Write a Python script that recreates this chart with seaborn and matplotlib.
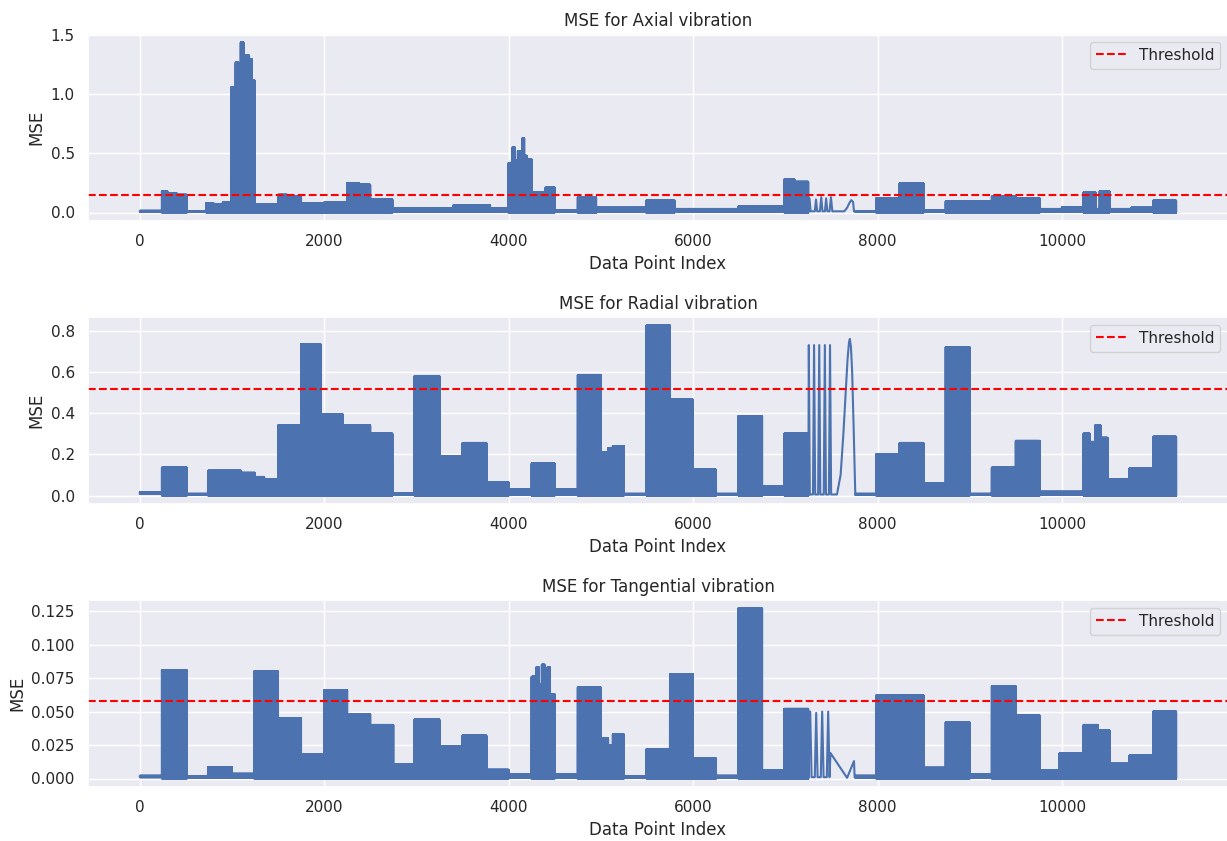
import numpy as np
import pandas as pd
import matplotlib
matplotlib.use("Agg")
import matplotlib.pyplot as plt
import seaborn as sns

# ---------------------------------------------------------------------------
# Reconstruction error per data point for the three vibration channels.
# Each channel is stored as blocks of rapidly alternating error values
# (start index, end index, upper level, lower level) plus a short list of
# explicit vertices for the slow transient around index 7250-7760.
# ---------------------------------------------------------------------------

# ---- Axial -----------------------------------------------------------------
axial_start = [0, 240, 300, 400, 510, 720, 800, 900, 990, 1040, 1070, 1095,
               1125, 1150, 1185, 1215, 1245, 1500, 1600, 1750, 2000, 2250,
               2380, 2500, 2740, 3400, 3800, 4000, 4040, 4070, 4100, 4130,
               4150, 4170, 4200, 4250, 4400, 4500, 4750, 4950, 5490, 5800,
               6490, 6990, 7100, 7760, 7985, 8240, 8500, 8740, 9240, 9500,
               9760, 10000, 10235, 10365, 10410, 10515, 10750, 10990]
axial_end = [240, 300, 400, 510, 720, 800, 900, 990, 1040, 1070, 1095, 1125,
             1150, 1185, 1215, 1245, 1500, 1600, 1750, 2000, 2250, 2380,
             2500, 2740, 3400, 3800, 4000, 4040, 4070, 4100, 4130, 4150,
             4170, 4200, 4250, 4400, 4500, 4750, 4950, 5490, 5800, 6490,
             6990, 7100, 7250, 7985, 8240, 8500, 8740, 9240, 9500, 9760,
             10000, 10235, 10365, 10410, 10515, 10750, 10990, 11240]
axial_peak = [0.014, 0.18, 0.165, 0.15, 0.012, 0.08, 0.07, 0.085, 1.06, 1.27,
              1.20, 1.44, 1.25, 1.33, 1.30, 1.12, 0.07, 0.15, 0.14, 0.075,
              0.085, 0.25, 0.235, 0.11, 0.035, 0.06, 0.032, 0.42, 0.55, 0.44,
              0.52, 0.45, 0.63, 0.48, 0.45, 0.17, 0.21, 0.015, 0.13, 0.04,
              0.10, 0.03, 0.05, 0.28, 0.26, 0.01, 0.12, 0.245, 0.02, 0.095,
              0.135, 0.12, 0.03, 0.045, 0.17, 0.03, 0.18, 0.03, 0.04, 0.10]
axial_floor = [0.008, 0.0, 0.0, 0.0, 0.006, 0.0, 0.0, 0.0, 0.0, 0.0, 0.0,
               0.0, 0.0, 0.0, 0.0, 0.0, 0.0, 0.0, 0.0, 0.0, 0.0, 0.0, 0.0,
               0.0, 0.01, 0.01, 0.01, 0.0, 0.0, 0.0, 0.0, 0.0, 0.0, 0.0,
               0.0, 0.0, 0.0, 0.008, 0.0, 0.01, 0.0, 0.01, 0.01, 0.0, 0.0,
               0.005, 0.0, 0.0, 0.005, 0.0, 0.0, 0.0, 0.01, 0.01, 0.0, 0.0,
               0.0, 0.005, 0.005, 0.0]
axial_curve_x = [7250, 7262, 7275, 7320, 7333, 7346, 7375, 7390, 7403, 7430,
                 7443, 7456, 7480, 7495, 7510, 7640, 7670, 7695, 7715, 7735,
                 7745, 7759]
axial_curve_y = [0.01, 0.12, 0.01, 0.01, 0.11, 0.01, 0.01, 0.13, 0.01, 0.01,
                 0.12, 0.01, 0.01, 0.13, 0.01, 0.01, 0.04, 0.08, 0.105, 0.09,
                 0.01, 0.01]
axial_threshold = 0.145

# ---- Radial ----------------------------------------------------------------
radial_start = [0, 240, 510, 740, 1100, 1250, 1350, 1500, 1750, 1960, 2200,
                2500, 2740, 2980, 3250, 3500, 3760, 4000, 4250, 4500, 4750,
                5000, 5080, 5130, 5250, 5495, 5750, 6000, 6250, 6490, 6750,
                6990, 7760, 7985, 8240, 8500, 8740, 9000, 9240, 9500, 9760,
                10235, 10300, 10360, 10420, 10495, 10730, 10990]
radial_end = [240, 510, 740, 1100, 1250, 1350, 1500, 1750, 1960, 2200, 2500,
              2740, 2980, 3250, 3500, 3760, 4000, 4250, 4500, 4750, 5000,
              5080, 5130, 5250, 5495, 5750, 6000, 6250, 6490, 6750, 6990,
              7250, 7985, 8240, 8500, 8740, 9000, 9240, 9500, 9760, 10235,
              10300, 10360, 10420, 10495, 10730, 10990, 11240]
radial_peak = [0.016, 0.135, 0.008, 0.12, 0.11, 0.09, 0.08, 0.34, 0.735,
               0.395, 0.34, 0.30, 0.01, 0.58, 0.19, 0.255, 0.065, 0.028,
               0.155, 0.03, 0.585, 0.21, 0.23, 0.24, 0.008, 0.825, 0.465,
               0.125, 0.008, 0.385, 0.045, 0.30, 0.008, 0.20, 0.255, 0.06,
               0.72, 0.008, 0.135, 0.265, 0.018, 0.30, 0.26, 0.34, 0.28,
               0.08, 0.13, 0.285]
radial_floor = [0.008, 0.0, 0.003, 0.0, 0.0, 0.0, 0.0, 0.0, 0.0, 0.0, 0.0,
                0.0, 0.003, 0.0, 0.0, 0.0, 0.0, 0.005, 0.0, 0.005, 0.0, 0.0,
                0.0, 0.0, 0.003, 0.0, 0.0, 0.0, 0.003, 0.0, 0.005, 0.0,
                0.003, 0.0, 0.0, 0.0, 0.0, 0.003, 0.0, 0.0, 0.003, 0.0, 0.0,
                0.0, 0.0, 0.0, 0.0, 0.0]
radial_curve_x = [7250, 7255, 7266, 7300, 7312, 7324, 7356, 7368, 7380, 7417,
                  7429, 7441, 7473, 7485, 7497, 7560, 7600, 7630, 7655, 7675,
                  7690, 7700, 7712, 7725, 7740, 7752, 7759]
radial_curve_y = [0.005, 0.73, 0.005, 0.005, 0.73, 0.005, 0.005, 0.73, 0.005,
                  0.005, 0.73, 0.005, 0.005, 0.73, 0.005, 0.005, 0.10, 0.30,
                  0.50, 0.66, 0.74, 0.76, 0.72, 0.60, 0.35, 0.12, 0.005]
radial_threshold = 0.515

# ---- Tangential ------------------------------------------------------------
tangential_start = [0, 240, 510, 740, 1000, 1240, 1500, 1750, 2000, 2250,
                    2500, 2750, 2980, 3250, 3500, 3760, 4000, 4250, 4300,
                    4330, 4360, 4390, 4420, 4450, 4500, 4750, 5000, 5080,
                    5130, 5250, 5495, 5750, 6000, 6250, 6490, 6750, 6990,
                    7760, 7985, 8500, 8740, 9000, 9240, 9500, 9760, 9975,
                    10235, 10390, 10515, 10730, 10990]
tangential_end = [240, 510, 740, 1000, 1240, 1500, 1750, 2000, 2250, 2500,
                  2750, 2980, 3250, 3500, 3760, 4000, 4250, 4300, 4330, 4360,
                  4390, 4420, 4450, 4500, 4750, 5000, 5080, 5130, 5250, 5495,
                  5750, 6000, 6250, 6490, 6750, 6990, 7250, 7985, 8500, 8740,
                  9000, 9240, 9500, 9760, 9975, 10235, 10390, 10515, 10730,
                  10990, 11240]
tangential_peak = [0.002, 0.081, 0.0015, 0.0085, 0.0035, 0.08, 0.045, 0.018,
                   0.066, 0.048, 0.04, 0.0105, 0.044, 0.024, 0.032, 0.0065,
                   0.003, 0.076, 0.083, 0.07, 0.085, 0.072, 0.083, 0.063,
                   0.003, 0.068, 0.03, 0.025, 0.033, 0.0015, 0.022, 0.078,
                   0.015, 0.002, 0.127, 0.006, 0.052, 0.002, 0.062, 0.008,
                   0.042, 0.003, 0.069, 0.047, 0.006, 0.019, 0.04, 0.036,
                   0.011, 0.017, 0.05]
tangential_floor = [0.001, 0.0, 0.0005, 0.0005, 0.0005, 0.0, 0.0, 0.0, 0.0,
                    0.0, 0.0, 0.0, 0.0, 0.0, 0.0, 0.0, 0.0005, 0.0, 0.0, 0.0,
                    0.0, 0.0, 0.0, 0.0, 0.0005, 0.0, 0.0, 0.0, 0.0, 0.0005,
                    0.0, 0.0, 0.0, 0.0005, 0.0, 0.0, 0.0, 0.0005, 0.0, 0.0,
                    0.0, 0.0005, 0.0, 0.0, 0.0, 0.0, 0.0, 0.0, 0.0, 0.0, 0.0]
tangential_curve_x = [7250, 7270, 7285, 7320, 7335, 7350, 7385, 7400, 7415,
                      7450, 7465, 7480, 7490, 7670, 7745, 7752, 7759]
tangential_curve_y = [0.001, 0.05, 0.001, 0.001, 0.049, 0.001, 0.001, 0.05,
                      0.001, 0.001, 0.05, 0.001, 0.019, 0.0005, 0.013, 0.001,
                      0.001]
tangential_threshold = 0.058

channel_names = ["Axial", "Radial", "Tangential"]


def expand_channel(starts, ends, peaks, floors, curve_x, curve_y):
    """Turn block descriptions into one index-ordered series of points."""
    xs, ys = [], []
    for s, e, p, f in zip(starts, ends, peaks, floors):
        idx = np.arange(s, e)
        xs.append(idx)
        ys.append(np.where((idx - s) % 2 == 0, p, f))
    xs.append(np.asarray(curve_x, dtype=float))
    ys.append(np.asarray(curve_y, dtype=float))
    x = np.concatenate(xs).astype(float)
    y = np.concatenate(ys).astype(float)
    order = np.argsort(x, kind="stable")
    return pd.DataFrame({"index": x[order], "mse": y[order]})


channels = [
    (expand_channel(axial_start, axial_end, axial_peak, axial_floor,
                    axial_curve_x, axial_curve_y), axial_threshold),
    (expand_channel(radial_start, radial_end, radial_peak, radial_floor,
                    radial_curve_x, radial_curve_y), radial_threshold),
    (expand_channel(tangential_start, tangential_end, tangential_peak,
                    tangential_floor, tangential_curve_x, tangential_curve_y),
     tangential_threshold),
]

sns.set_theme(style="darkgrid")
plt.rcParams["font.family"] = ["DejaVu Sans"]

fig = plt.figure(figsize=(12.27, 8.41), dpi=100)
ax_left = 88 / 1227
ax_width = 1140 / 1227
ax_height = 187 / 841
ax_bottoms = [(841 - 221) / 841, (841 - 504) / 841, (841 - 787) / 841]

for name, (df, thr), bottom in zip(channel_names, channels, ax_bottoms):
    ax = fig.add_axes([ax_left, bottom, ax_width, ax_height])
    sns.lineplot(data=df, x="index", y="mse", ax=ax, estimator=None,
                 sort=False, color=sns.color_palette("deep")[0],
                 linewidth=1.5)
    ax.axhline(thr, color="red", linestyle="--", linewidth=1.5,
               label="Threshold")
    ax.set_title(f"MSE for {name} vibration", fontsize=12)
    ax.set_xlabel("Data Point Index", fontsize=12)
    ax.set_ylabel("MSE", fontsize=12)
    ax.legend(loc="upper right")

fig.savefig("out.png", dpi=100)
